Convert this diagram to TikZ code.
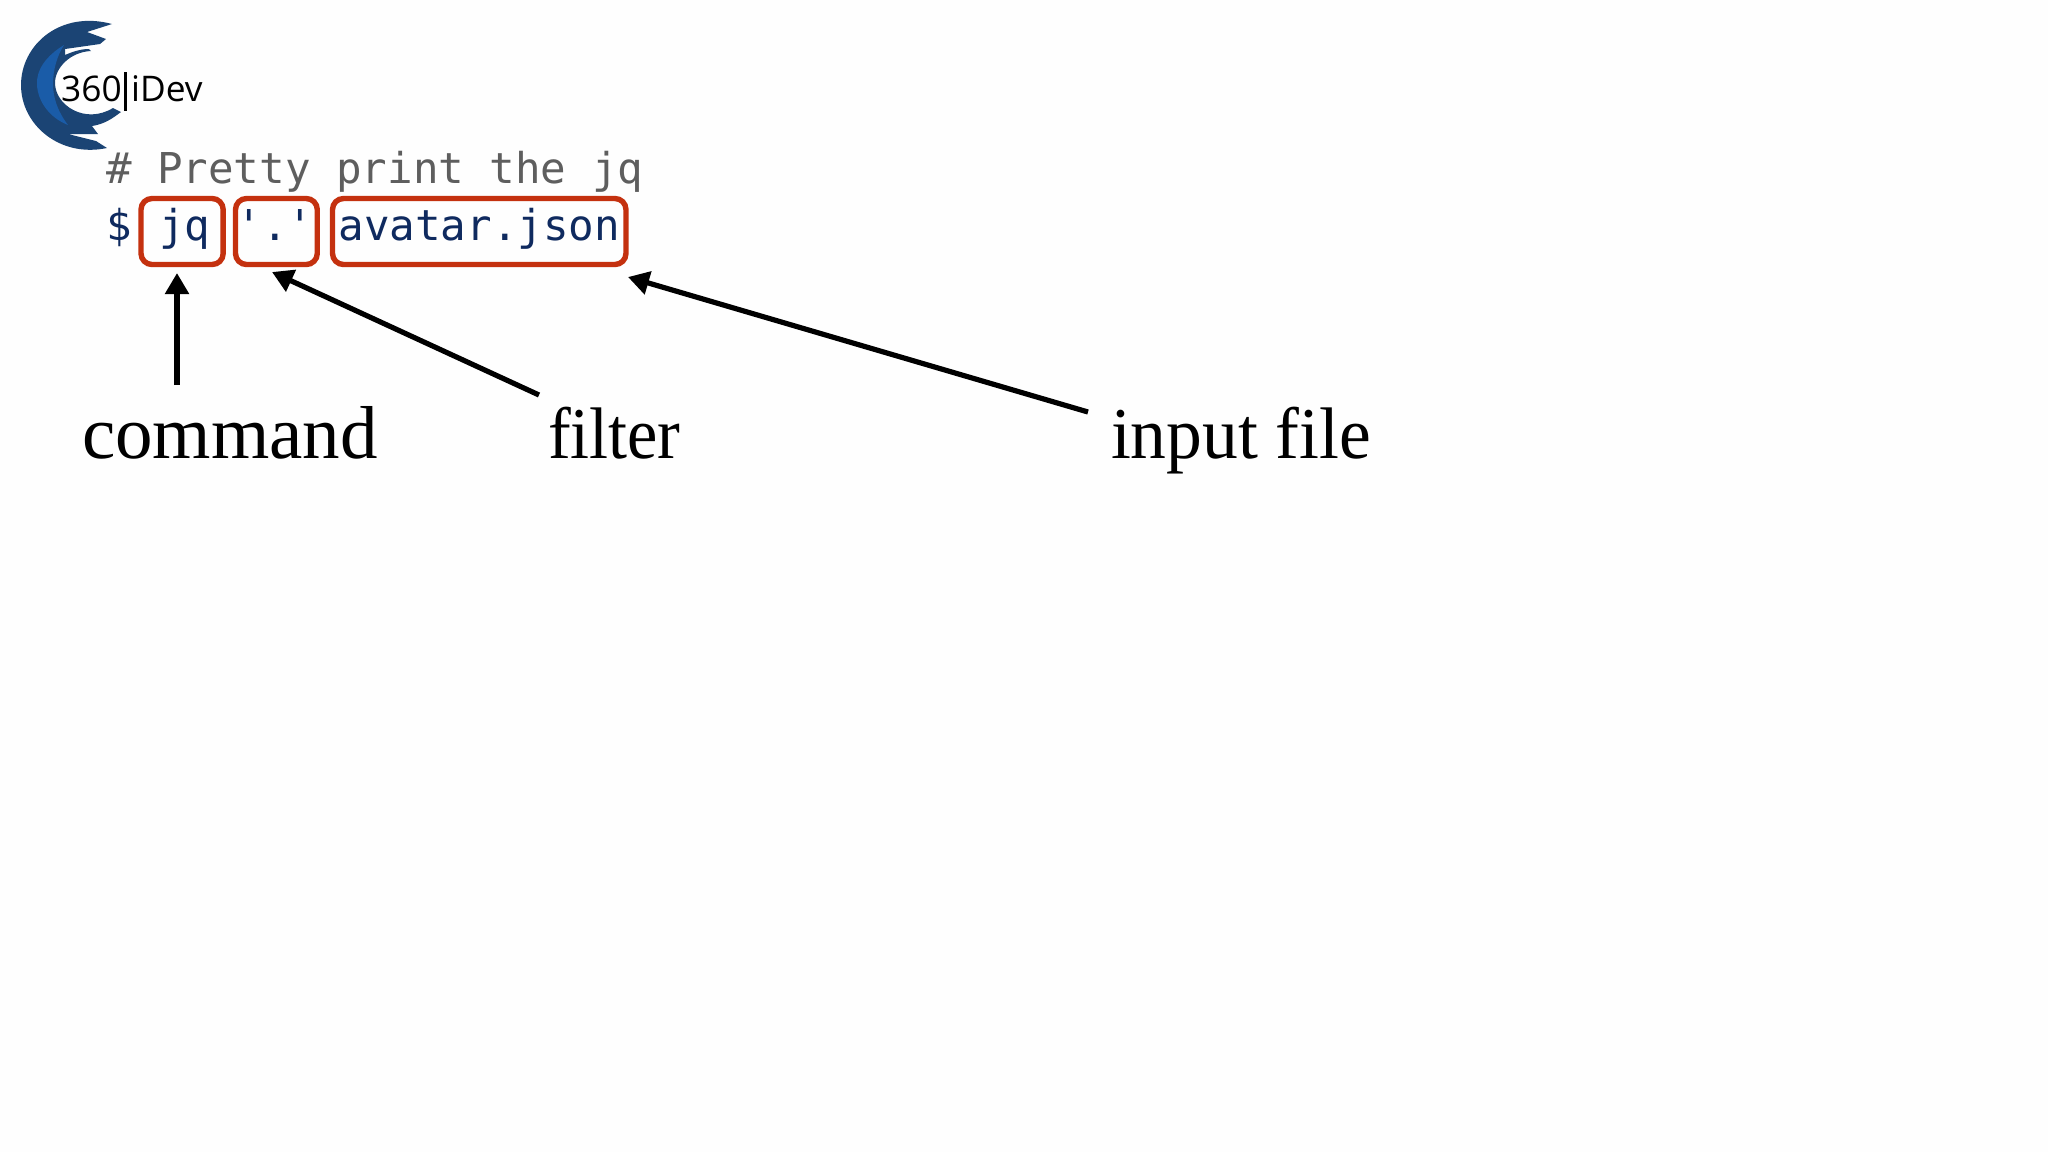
\documentclass[tikz,border=0pt]{standalone}
\usepackage{fontspec}
\usetikzlibrary{arrows.meta}
\newfontfamily\codefont{DejaVu Sans Mono}
\newfontfamily\labelfont{Liberation Serif}
\newfontfamily\logofont{Open Sans}
\definecolor{codeblue}{HTML}{0F2A5F}
\definecolor{commentgray}{HTML}{5E5E5E}
\definecolor{boxred}{HTML}{C4310F}
\definecolor{logodark}{HTML}{1B4474}
\definecolor{logomid}{HTML}{1A5CA8}
\definecolor{pagewhite}{HTML}{FEFEFE}
\tikzset{
  x=1pt,y=-1pt,
  codetext/.style={anchor=base west,inner sep=0pt,outer sep=0pt,font=\codefont\fontsize{42.5pt}{50pt}\selectfont},
  codebox/.style={codetext,draw=boxred,line width=5.4pt,rounded corners=11pt,text=codeblue,text height=41.5pt,text depth=24.5pt},
  tag/.style={anchor=base west,inner sep=0pt,outer sep=0pt,text=black,transform shape,font=\labelfont\fontsize{75pt}{80pt}\selectfont},
  brand/.style={anchor=base west,inner sep=0pt,font=\logofont\fontsize{35.3pt}{40pt}\selectfont},
  pointer/.style={draw=black,line width=5.2pt,-{Triangle[length=21pt,width=23pt]}},
}
\begin{document}
\begin{tikzpicture}
\useasboundingbox[fill=pagewhite] (0,0) rectangle (2048,1152);
% logo
\fill[logodark] (112,24) .. controls (60,10) and (21,45) .. (21,85)
  .. controls (21,125) and (60,158) .. (107,148)
  -- (96,141) -- (68,134) -- (98,134) -- (92,126)
  .. controls (105,124) and (113,118) .. (121,112) -- (113,108)
  .. controls (85,125) and (55,105) .. (55,83)
  .. controls (55,68) and (70,52) .. (91,51) -- (89,49)
  .. controls (80,49) and (72,52) .. (65,55) -- (65,49) -- (100,44) -- (106,39) -- (87,32) -- cycle;
\fill[logomid] (64,45) .. controls (46,56) and (36,70) .. (37,85)
  .. controls (38,102) and (50,118) .. (68,125)
  .. controls (58,112) and (53,98) .. (53,84)
  .. controls (53,70) and (57,56) .. (64,45) -- cycle;
\node[brand] (brandA) at (61,101) {360};
\draw[line width=3pt,black] (125,72) -- (125,111);
\node[brand] (brandB) at (131,101) {iDev};
% code
\node[codetext,text=commentgray] (comment) at (106,183) {\# Pretty print the jq};
\node[codetext,text=codeblue] (prompt) at (106,240) {\$};
\node[codebox] (jq) at (141,240) {\hspace*{18pt}jq\hspace*{13pt}};
\node[codebox] (dot) at (235.5,240) {\hspace*{1pt}'.'\hspace*{4pt}};
\node[codebox] (file) at (332.5,240) {\hspace*{6pt}avatar.json\hspace*{6pt}};
% labels
\node[tag] (command) at (82,458) {command};
\node[tag,font=\labelfont\fontsize{73pt}{80pt}\selectfont,xscale=.935] (filter) at (548,458) {filter};
\node[tag,font=\labelfont\fontsize{73pt}{80pt}\selectfont,xscale=.98] (input) at (1111,458) {input file};
% arrows
\coordinate (jqtip) at (177,273);
\coordinate (jqtail) at (177,385);
\coordinate (dottip) at (272,272);
\coordinate (dottail) at (539,395);
\coordinate (filetip) at (628,277);
\coordinate (filetail) at (1088,412);
\draw[pointer] (jqtail) -- (jqtip);
\draw[pointer] (dottail) -- (dottip);
\draw[pointer] (filetail) -- (filetip);
\end{tikzpicture}
\end{document}
